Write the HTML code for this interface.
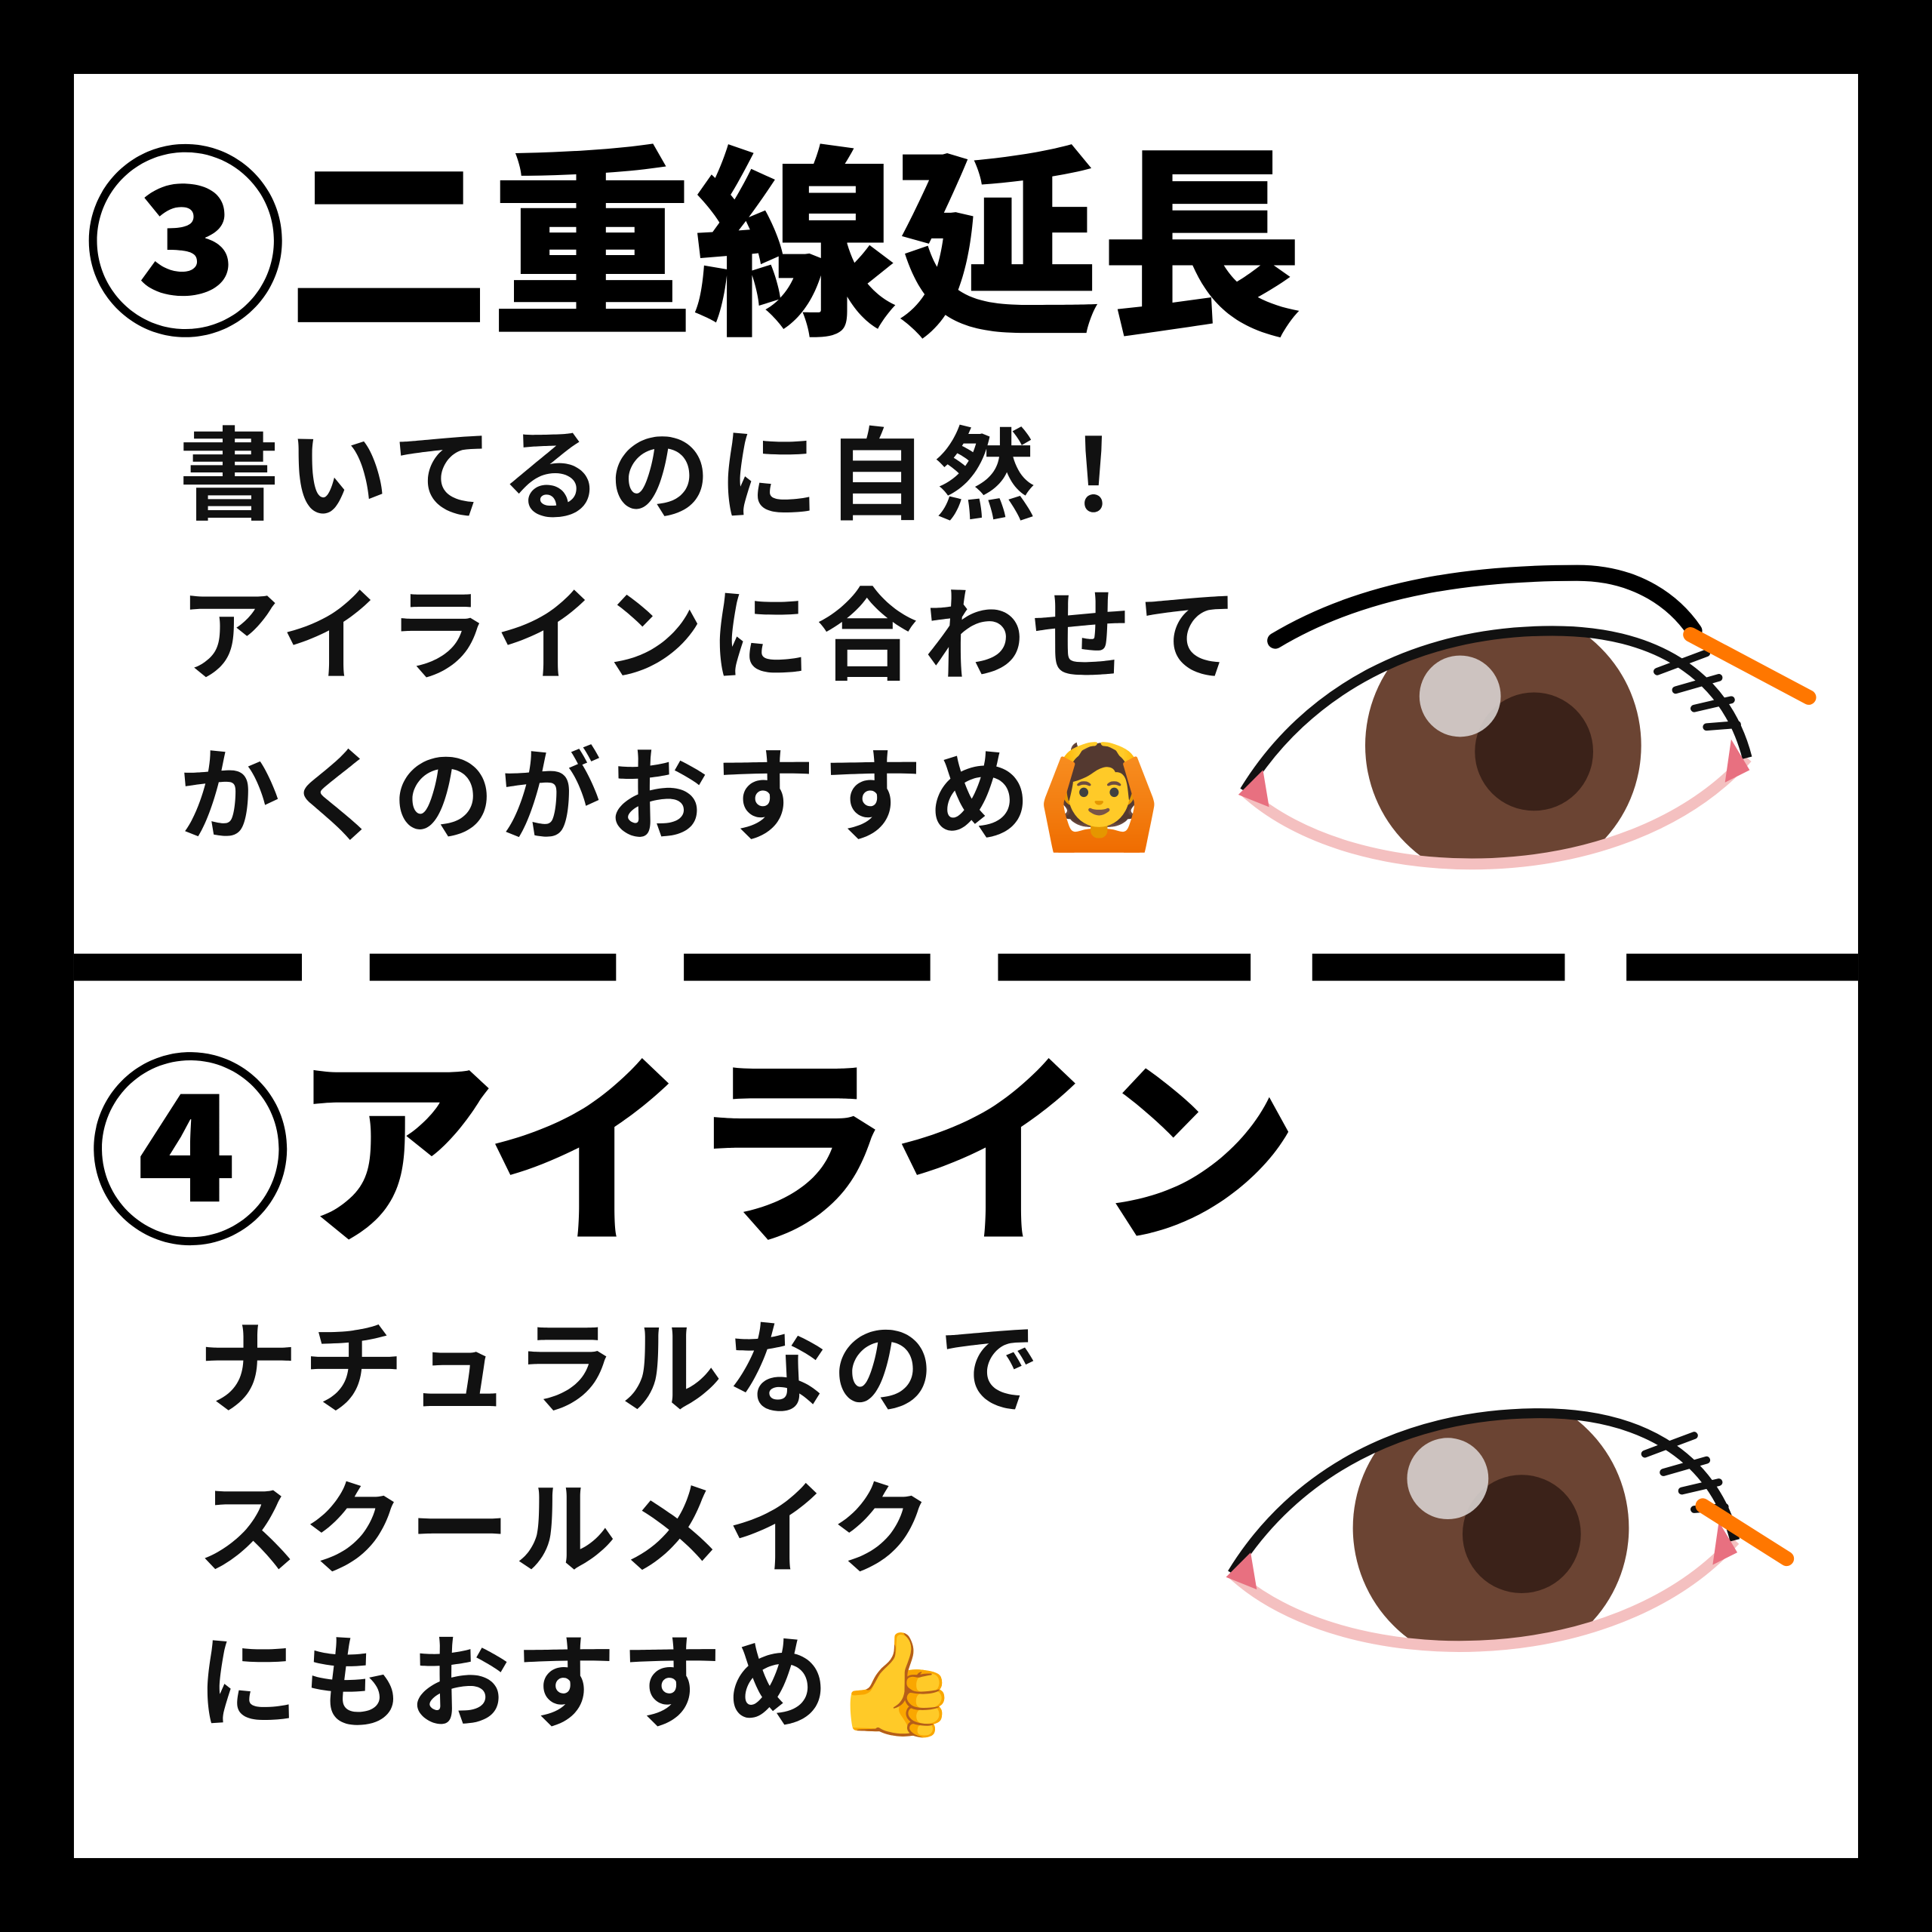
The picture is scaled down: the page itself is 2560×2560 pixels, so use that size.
<!DOCTYPE html>
<html><head><meta charset="utf-8"><style>
html,body{margin:0;padding:0;background:#000;}
svg{display:block}
text{font-family:"Liberation Sans","Noto Sans CJK JP",sans-serif;}
</style></head><body>
<svg width="2560" height="2560" viewBox="0 0 1568 1568" xmlns="http://www.w3.org/2000/svg">
<defs>
<clipPath id="e1"><path d="M1010,642 C1060,560 1150,512 1260,512 C1340,512 1400,545 1418,615 C1320,725 1100,725 1010,642Z"/></clipPath>
<clipPath id="e2"><path d="M1000,1277 C1050,1195 1140,1147 1250,1147 C1330,1147 1390,1180 1408,1250 C1310,1360 1090,1360 1000,1277Z"/></clipPath>
</defs>
<rect x="0" y="0" width="1568" height="1568" fill="#000"/>
<rect x="60" y="60" width="1448" height="1448" fill="#fff"/>
<g fill="#000">
<rect x="60" y="774" width="185" height="22"/>
<rect x="300" y="774" width="200" height="22"/>
<rect x="555" y="774" width="200" height="22"/>
<rect x="810" y="774" width="205" height="22"/>
<rect x="1065" y="774" width="205" height="22"/>
<rect x="1320" y="774" width="188" height="22"/>
</g>
<text x="68" y="258" font-size="165" font-weight="900" fill="#000">③二重線延長</text>
<g font-size="82" font-weight="700" fill="#111">
<text x="145" y="415" letter-spacing="6">書いてるのに自然！</text>
<text x="145" y="545" letter-spacing="5">アイラインに合わせて</text>
<text x="145" y="675" letter-spacing="5">かくのがおすすめ🙆</text>
</g>
<text x="72" y="995" font-size="165" font-weight="900" fill="#000">④アイライン</text>
<g font-size="82" font-weight="700" fill="#111">
<text x="160" y="1140" letter-spacing="4">ナチュラルなので</text>
<text x="160" y="1270" letter-spacing="4">スクールメイク</text>
<text x="160" y="1395" letter-spacing="4">にもおすすめ👍</text>
</g>

<path d="M1010,642 C1060,560 1150,512 1260,512 C1340,512 1400,545 1418,615 C1320,725 1100,725 1010,642Z" fill="#fff"/>
<g clip-path="url(#e1)">
<circle cx="1220" cy="605" r="112" fill="#6b4433"/>
<circle cx="1245" cy="610" r="48" fill="#3b2219"/>
<circle cx="1185" cy="565" r="33" fill="#d8d2cf" opacity="0.9"/>
</g>
<path d="M1010,642 C1100,725 1320,725 1418,615" fill="none" stroke="#f4c0c0" stroke-width="9"/>
<path d="M1010,642 C1060,560 1150,512 1260,512 C1340,512 1400,545 1418,615" fill="none" stroke="#111" stroke-width="8"/>
<path d="M1005,645 L1025,625 L1030,655Z" fill="#e87080"/>
<path d="M1405,600 L1420,625 L1400,635Z" fill="#e87080"/>
<g stroke="#111" stroke-width="6" stroke-linecap="round">
<line x1="1345" y1="545" x2="1385" y2="530"/>
<line x1="1360" y1="560" x2="1395" y2="550"/>
<line x1="1375" y1="575" x2="1405" y2="568"/>
<line x1="1385" y1="590" x2="1410" y2="588"/>
</g>
<path d="M1035,520 C1110,475 1200,465 1280,465 C1330,465 1360,490 1375,512" fill="none" stroke="#000" stroke-width="13" stroke-linecap="round"/>
<line x1="1372" y1="515" x2="1468" y2="566" stroke="#ff7700" stroke-width="12" stroke-linecap="round"/>

<path d="M1000,1277 C1050,1195 1140,1147 1250,1147 C1330,1147 1390,1180 1408,1250 C1310,1360 1090,1360 1000,1277Z" fill="#fff"/>
<g clip-path="url(#e2)">
<circle cx="1210" cy="1240" r="112" fill="#6b4433"/>
<circle cx="1235" cy="1245" r="48" fill="#3b2219"/>
<circle cx="1175" cy="1200" r="33" fill="#d8d2cf" opacity="0.9"/>
</g>
<path d="M1000,1277 C1090,1360 1310,1360 1408,1250" fill="none" stroke="#f4c0c0" stroke-width="9"/>
<path d="M1000,1277 C1050,1195 1140,1147 1250,1147 C1330,1147 1390,1180 1408,1250" fill="none" stroke="#111" stroke-width="8"/>
<path d="M995,1280 L1015,1260 L1020,1290Z" fill="#e87080"/>
<path d="M1395,1235 L1410,1260 L1390,1270Z" fill="#e87080"/>
<g stroke="#111" stroke-width="6" stroke-linecap="round">
<line x1="1335" y1="1180" x2="1375" y2="1165"/>
<line x1="1350" y1="1195" x2="1385" y2="1185"/>
<line x1="1365" y1="1210" x2="1395" y2="1203"/>
<line x1="1375" y1="1225" x2="1400" y2="1223"/>
</g>
<line x1="1382" y1="1222" x2="1450" y2="1265" stroke="#ff7700" stroke-width="12" stroke-linecap="round"/>
</svg>
</body></html>
